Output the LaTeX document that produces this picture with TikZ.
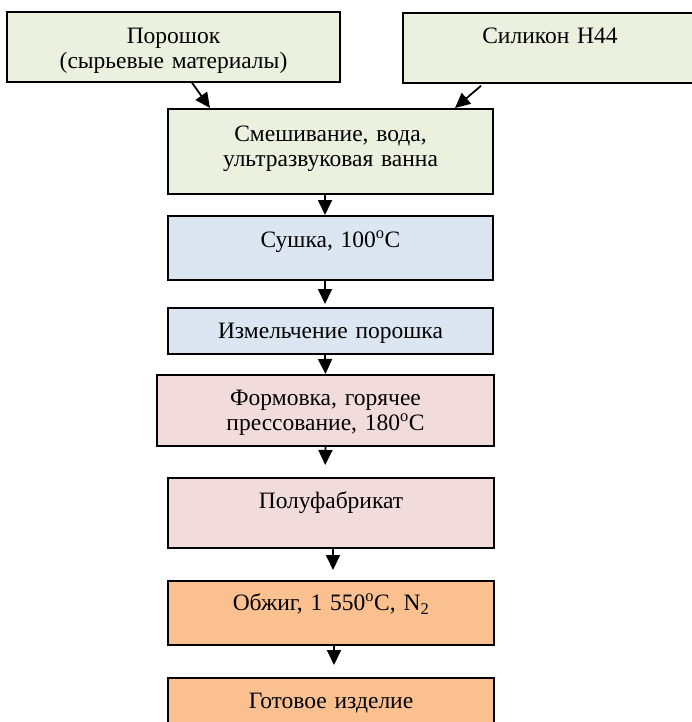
\documentclass[tikz,border=0pt]{standalone}
\usepackage{fontspec}
\setmainfont{Liberation Serif}
\usepackage{xcolor}
\definecolor{stageMix}{HTML}{EBF1DE}
\definecolor{stageDry}{HTML}{DCE6F2}
\definecolor{stageForm}{HTML}{F2DCDB}
\definecolor{stageFire}{HTML}{FAC090}
\usetikzlibrary{arrows.meta}

\begin{document}
\begin{tikzpicture}[x=1pt, y=-1pt,
  stage/.style={draw, line width=1.8pt, inner sep=0pt, anchor=north, align=center,
    font=\fontsize{23.5}{24.5}\selectfont},
  flow/.style={-{Triangle[length=15pt, width=14pt]}, line width=1.8pt}]
  \useasboundingbox (0,0) rectangle (692,722);
  \clip (0,0) rectangle (692,722);
  \node[stage, fill=stageMix, text width=333pt, text height=32pt, text depth=38pt] (powder) at (173.5,11) {Порошок\\(сырьевые материалы)};
  \node[stage, fill=stageMix, text width=294pt, text height=31pt, text depth=39pt] (silicon) at (550,12) {Силикон H44};
  \node[stage, fill=stageMix, text width=325pt, text height=33pt, text depth=52pt] (mix) at (330.5,108) {Смешивание, вода,\\ультразвуковая ванна};
  \node[stage, fill=stageDry, text width=325pt, text height=32pt, text depth=32pt] (dry) at (330.5,215) {Сушка, 100\textsuperscript{o}C};
  \node[stage, fill=stageDry, text width=325pt, text height=31pt, text depth=15pt] (mill) at (330.5,307) {Измельчение порошка};
  \node[stage, fill=stageForm, text width=337pt, text height=31pt, text depth=40pt] (form) at (325.5,374) {Формовка, горячее\\прессование, 180\textsuperscript{o}C};
  \node[stage, fill=stageForm, text width=326pt, text height=31pt, text depth=39pt] (semi) at (331,477) {Полуфабрикат};
  \node[stage, fill=stageFire, text width=326pt, text height=30pt, text depth=34pt] (fire) at (331,580) {Обжиг, 1~550\textsuperscript{o}C, N\textsubscript{2}};
  \node[stage, fill=stageFire, text width=326pt, text height=31pt, text depth=37pt] (ready) at (331,677) {Готовое изделие};
  % arrows
  \draw[flow] ([xshift=18.5pt]powder.south) -- ([xshift=-120.5pt]mix.north);
  \draw[flow] ([xshift=-69pt, yshift=-2pt]silicon.south) -- ([xshift=124.5pt]mix.north);
  \draw[flow] ([xshift=-5.5pt]mix.south) -- ([xshift=-5.5pt]dry.north);
  \draw[flow, shorten >=3pt] ([xshift=-5.5pt]dry.south) -- ([xshift=-5.5pt]mill.north);
  \draw[flow] ([xshift=-5.5pt]mill.south) -- (form.north);
  \draw[flow, shorten >=12pt] (form.south) -- ([xshift=-6pt]semi.north);
  \draw[flow, shorten >=10pt] ([xshift=2pt]semi.south) -- ([xshift=2pt]fire.north);
  \draw[flow, shorten >=12pt] ([xshift=3pt]fire.south) -- ([xshift=3pt]ready.north);
\end{tikzpicture}
\end{document}
